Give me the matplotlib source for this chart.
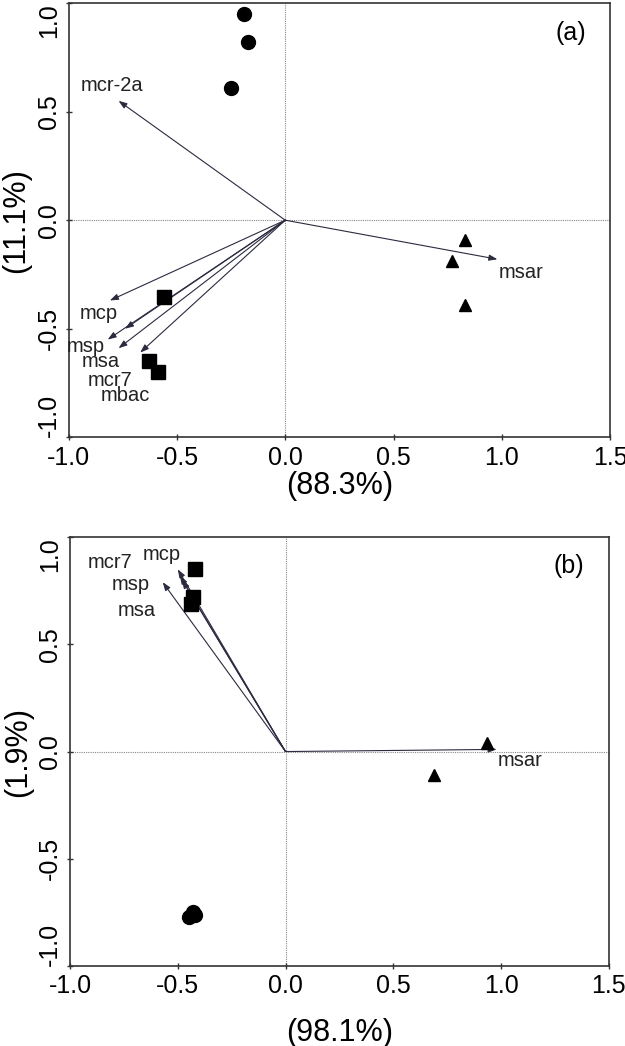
import matplotlib
matplotlib.use('Agg')
import matplotlib.pyplot as plt

plt.rcParams['font.family'] = ['Liberation Sans', 'DejaVu Sans']

# panel (a) scores
a_circ_x = [-0.19, -0.17, -0.25]
a_circ_y = [0.95, 0.82, 0.61]
a_tri_x = [0.83, 0.77, 0.83]
a_tri_y = [-0.09, -0.19, -0.39]
a_sq_x = [-0.56, -0.63, -0.59]
a_sq_y = [-0.355, -0.65, -0.70]
# panel (a) loadings
a_vars = ['mcr-2a', 'msar', 'mcp', 'msp', 'msa', 'mcr7', 'mbac']
a_vx = [-0.77, 0.98, -0.81, -0.82, -0.77, -0.74, -0.67]
a_vy = [0.55, -0.18, -0.37, -0.55, -0.59, -0.50, -0.61]
a_lx = [-0.80, 1.09, -0.86, -0.92, -0.85, -0.81, -0.74]
a_ly = [0.62, -0.24, -0.43, -0.58, -0.65, -0.74, -0.81]

# panel (b) scores
b_circ_x = [-0.45, -0.43, -0.42]
b_circ_y = [-0.77, -0.75, -0.76]
b_tri_x = [0.935, 0.69]
b_tri_y = [0.04, -0.11]
b_sq_x = [-0.42, -0.43, -0.44]
b_sq_y = [0.85, 0.72, 0.69]
# panel (b) loadings
b_vars = ['mcr7', 'mcp', 'msp', 'msa', 'msar']
b_vx = [-0.49, -0.50, -0.48, -0.57, 0.98]
b_vy = [0.82, 0.85, 0.80, 0.79, 0.01]
b_lx = [-0.815, -0.575, -0.72, -0.69, 1.09]
b_ly = [0.88, 0.92, 0.78, 0.66, -0.04]

ticks = [-1.0, -0.5, 0.0, 0.5, 1.0, 1.5]
yticks = [-1.0, -0.5, 0.0, 0.5, 1.0]

fig = plt.figure(figsize=(6.25, 10.46), dpi=100)
ax1 = fig.add_axes([0.110, 0.582, 0.866, 0.415])
ax2 = fig.add_axes([0.112, 0.0765, 0.862, 0.410])


def panel(ax, cx, cy, tx, ty, sx, sy, names, vx, vy, lx, ly, tag, xlab, ylab, xpad):
    ax.set_xlim(-1.0, 1.5)
    ax.set_ylim(-1.0, 1.0)
    ax.axhline(0, color='#888888', lw=0.8, ls=(0, (1, 1)), zorder=1)
    ax.axvline(0, color='#888888', lw=0.8, ls=(0, (1, 1)), zorder=1)
    for n, x, y, a, b in zip(names, vx, vy, lx, ly):
        ax.annotate('', xy=(x, y), xytext=(0, 0),
                    arrowprops=dict(arrowstyle='-|>,head_length=0.5,head_width=0.18',
                                    color='#2b2b40', lw=0.8, shrinkA=0, shrinkB=0),
                    zorder=2)
        ax.text(a, b, n, fontsize=14.5, ha='center', va='center', color='#222222')
    ax.plot(cx, cy, 'o', color='black', ms=10, zorder=3)
    ax.plot(tx, ty, '^', color='black', ms=8.5, zorder=3)
    ax.plot(sx, sy, 's', color='black', ms=9.5, zorder=3)
    ax.text(0.955, 0.96, tag, transform=ax.transAxes, fontsize=18,
            ha='right', va='top')
    ax.set_xticks(ticks)
    ax.set_yticks(yticks)
    ax.set_xticklabels(['%.1f' % t for t in ticks], fontsize=18)
    labs = ax.set_yticklabels(['%.1f' % t for t in yticks], fontsize=18,
                              rotation=90, va='center')
    # end labels are kept inside the axis span, as in the original
    labs[0].set_va('bottom')
    labs[-1].set_va('top')
    ax.tick_params(direction='inout', length=5, width=1, color='#333333')
    ax.tick_params(axis='y', pad=3)
    ax.set_xlabel(xlab, fontsize=22, labelpad=xpad)
    ax.set_ylabel(ylab, fontsize=22, labelpad=4)
    for s in ax.spines.values():
        s.set_color('#333333')
        s.set_linewidth(1.2)


panel(ax1, a_circ_x, a_circ_y, a_tri_x, a_tri_y, a_sq_x, a_sq_y,
      a_vars, a_vx, a_vy, a_lx, a_ly, '(a)', '(88.3%)', '(11.1%)', 1)
panel(ax2, b_circ_x, b_circ_y, b_tri_x, b_tri_y, b_sq_x, b_sq_y,
      b_vars, b_vx, b_vy, b_lx, b_ly, '(b)', '(98.1%)', '(1.9%)', 14)

fig.savefig('out.png', dpi=100)
